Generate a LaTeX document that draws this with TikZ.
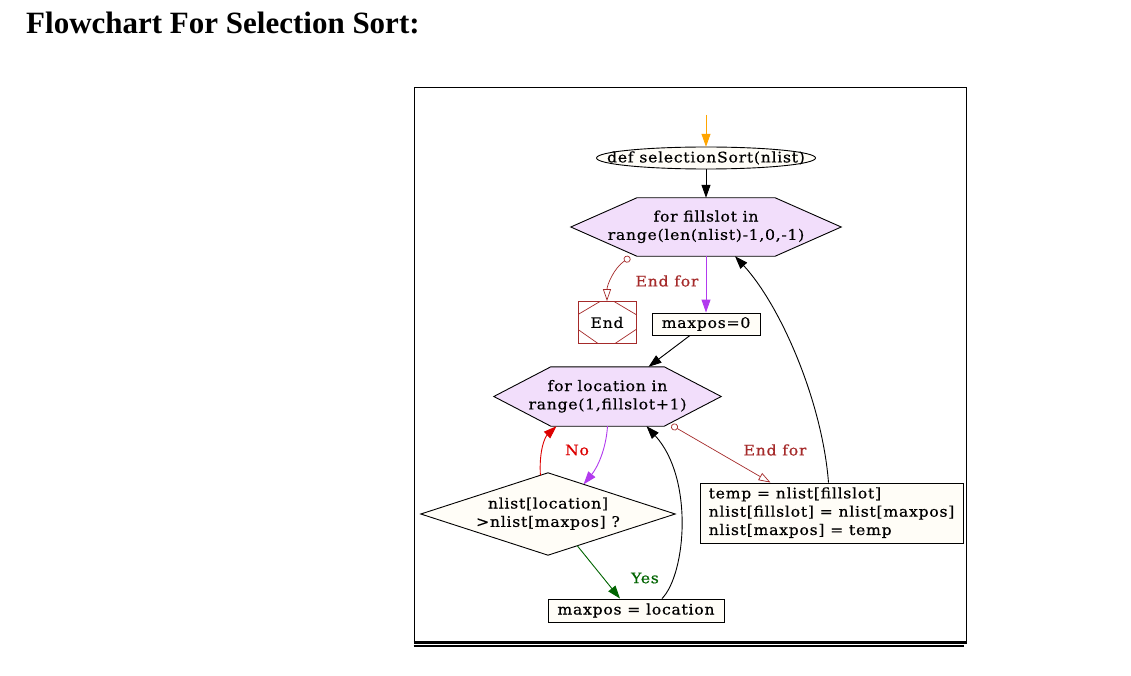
\documentclass[tikz,border=0pt]{standalone}
\usepackage{fontspec}
\usetikzlibrary{arrows.meta,calc,backgrounds}
\newfontfamily\dgfont[FakeStretch=1.08,LetterSpace=5,FakeBold=0.6]{DejaVu Serif}
\newfontfamily\titlefont{Liberation Serif}
\definecolor{ivorya}{HTML}{FFFDF7}
\definecolor{lav}{HTML}{F2DEFB}
\definecolor{endred}{HTML}{A52A2A}
\definecolor{purp}{HTML}{B23AEE}
\definecolor{nored}{HTML}{DD0000}
\definecolor{yesgreen}{HTML}{006400}
\definecolor{orng}{HTML}{FFA500}
\newcommand{\ctext}[2]{\raisebox{#1}{\begin{tabular}{@{}c@{}}#2\end{tabular}}}
\newcommand{\ltext}[2]{\raisebox{#1}{\begin{tabular}{@{}l@{}}#2\end{tabular}}}
\tikzset{
  dg/.style={font=\dgfont\fontsize{14.5}{18.3}\selectfont},
  shapebox/.style={dg, rectangle, inner sep=0pt, align=center},
  boxnode/.style={dg, rectangle, draw=black, fill=ivorya, line width=0.9pt, inner sep=0pt, align=center},
  hexfill/.style={draw=black, fill=lav, line width=0.9pt, line join=miter},
  ivfill/.style={draw=black, fill=ivorya, line width=0.9pt},
  lbl/.style={dg, inner sep=0pt},
  tip/.style={-{Triangle[length=13pt,width=9pt]}},
  conn/.style={line width=0.9pt, tip},
  endfor/.style={line width=0.7pt, draw=endred, {Circle[open,length=7pt,width=7pt]}-{Triangle[open,length=12pt,width=8pt]}},
}
\begin{document}
\begin{tikzpicture}[x=1pt,y=-1pt]
\useasboundingbox (0,0) rectangle (1131,676);

% title
\node[anchor=base west, inner sep=0pt, font=\titlefont\bfseries\fontsize{31}{31}\selectfont] (title) at (26,34) {Flowchart For Selection Sort:};

% frame
\draw[line width=1pt] (414,642) -- (414,87.5) -- (966,87.5) -- (966,642);
\draw[line width=3pt] (413.5,642) -- (966.5,642);
\draw[line width=1.6pt] (413.5,646) -- (964,646);

% nodes
\coordinate (entry) at (706,115);
\node[shapebox, minimum width=219, minimum height=22] (start) at (706,158) {\raisebox{-1.5pt}{def selectionSort(nlist)}};
\node[shapebox, minimum width=270, minimum height=58] (h1) at (706,227) {\ctext{-3pt}{for fillslot in\\range(len(nlist)-1,0,-1)}};
\node[dg, rectangle, draw=endred, line width=0.8pt, fill=white, inner sep=0pt, minimum width=58, minimum height=42,
  path picture={
    \draw[endred, line width=0.7pt]
      ([yshift=-13pt]path picture bounding box.north west) -- ([xshift=22pt]path picture bounding box.north west)
      ([yshift=-13pt]path picture bounding box.north east) -- ([xshift=-22pt]path picture bounding box.north east)
      ([yshift=14pt]path picture bounding box.south west) -- ([xshift=20pt]path picture bounding box.south west)
      ([yshift=14pt]path picture bounding box.south east) -- ([xshift=-21pt]path picture bounding box.south east);
  }] (endn) at (607,322.5) {\raisebox{-1pt}{End}};
\node[boxnode, minimum width=108, minimum height=22] (m0) at (706,324) {\raisebox{-1pt}{maxpos=0}};
\node[shapebox, minimum width=227, minimum height=59] (h2) at (607.5,396.5) {\ctext{-3pt}{for location in\\range(1,fillslot+1)}};
\node[shapebox, minimum width=254, minimum height=82] (dia) at (548,514) {\ctext{-1pt}{nlist[location]\\>nlist[maxpos] ?}};
\node[boxnode, minimum width=176, minimum height=23] (mloc) at (636,610.5) {\raisebox{-1pt}{maxpos = location}};
\node[boxnode, minimum width=263, minimum height=60] (tmp) at (831.5,513) {\ltext{-2.5pt}{temp = nlist[fillslot]\\nlist[fillslot] = nlist[maxpos]\\nlist[maxpos] = temp}};

% shapes behind text
\begin{pgfonlayer}{background}
  \fill[white] (0,0) rectangle (1131,676);
  \draw[ivfill] (start.center) ellipse [x radius=109.5, y radius=11];
  \draw[hexfill] ([xshift=-66pt]h1.north east) -- (h1.east) -- ([xshift=-66pt]h1.south east)
     -- ([xshift=66pt]h1.south west) -- (h1.west) -- ([xshift=66pt]h1.north west) -- cycle;
  \draw[hexfill] ([xshift=-57pt]h2.north east) -- (h2.east) -- ([xshift=-57pt]h2.south east)
     -- ([xshift=57pt]h2.south west) -- (h2.west) -- ([xshift=57pt]h2.north west) -- cycle;
  \draw[ivfill, line join=miter] (dia.north) -- (dia.east) -- (dia.south) -- (dia.west) -- cycle;
\end{pgfonlayer}

% labels
\node[lbl, text=endred] (lblend1) at (667,281) {End for};
\node[lbl, text=endred] (lblend2) at (775,450) {End for};
\node[lbl, text=nored] (lblno) at (577,450) {No};
\node[lbl, text=yesgreen] (lblyes) at (645,578) {Yes};

% connectors
\draw[conn, draw=orng, fill=orng] (entry) -- (start.north);
\draw[conn, fill=black] (start.south) -- (h1.north);
\draw[conn, draw=purp, fill=purp] (h1.south) -- (m0.north);
\draw[endfor] ([xshift=-76pt,yshift=-1pt]h1.south) .. controls (614,268) and (607,285) .. (endn.north);
\draw[conn, fill=black] ([xshift=-16pt]m0.south) -- ([xshift=41pt]h2.north);
\coordinate (diatop) at ($(dia.north)!0.28!(dia.east)$);
\coordinate (dialeft) at ($(dia.north)!0.06!(dia.west)$);
\coordinate (diabot) at ($(dia.south)!0.23!(dia.east)$);
\draw[conn, draw=purp] (h2.south) .. controls (606,450) and (597,468) .. (diatop);
\draw[conn, draw=nored] (dialeft) .. controls (539,450) and (545,437) .. ([xshift=-51pt]h2.south);
\draw[conn, draw=yesgreen] (diabot) -- ([xshift=-16pt]mloc.north);
\draw[conn] ([xshift=26pt]mloc.north) .. controls (686,574) and (694,478) .. ([xshift=39pt]h2.south);
\draw[endfor] ([xshift=64pt,yshift=1pt]h2.south) -- ([xshift=-61pt]tmp.north);
\draw[conn] ([xshift=-3pt]tmp.north) .. controls (822,400) and (780,305) .. ([xshift=29pt]h1.south);
\end{tikzpicture}
\end{document}
